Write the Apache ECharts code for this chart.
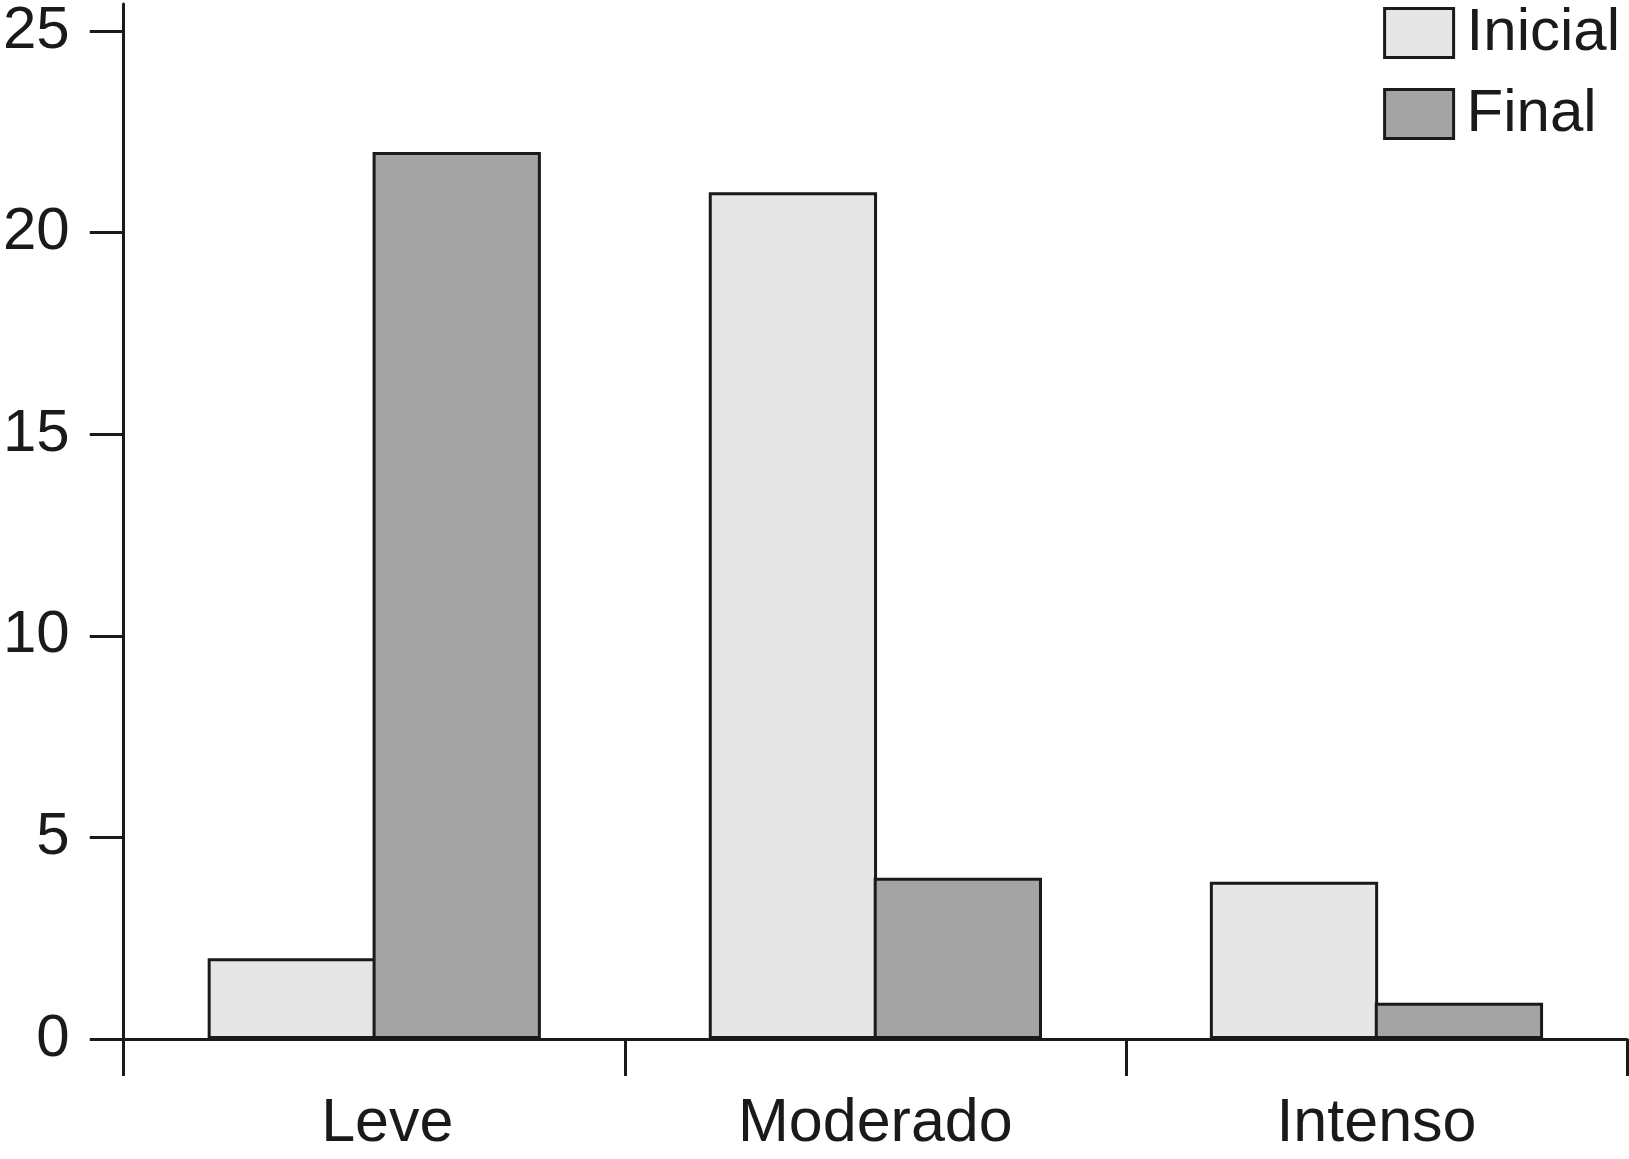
<!DOCTYPE html>
<html>
<head>
<meta charset="utf-8">
<script src="https://cdn.jsdelivr.net/npm/echarts@6/dist/echarts.min.js"></script>
<style>
html,body{margin:0;padding:0;background:#fff;}
#chart{width:1629px;height:1159px;}
</style>
</head>
<body>
<div id="chart"></div>
<script>
const categories = ['Leve', 'Moderado', 'Intenso'];
const inicialValues = [2, 21, 3.9];
const finalValues = [22, 4, 0.9];
const yTicks = [0, 5, 10, 15, 20, 25];
const seriesNames = ['Inicial', 'Final'];

const ink = '#1a1a1a';
const font = 'Liberation Sans, Arial, Helvetica, sans-serif';

const categoryItems = categories.map(function (c, i) {
  return i === 0 ? {value: c, textStyle: {padding: [0, 0, 0, 26]}} : c;
});

const chart = echarts.init(document.getElementById('chart'), null, {renderer: 'canvas'});
chart.setOption({
  backgroundColor: '#ffffff',
  animation: false,
  grid: {left: 120, right: 2, top: 4, bottom: 120, containLabel: false},
  legend: {
    orient: 'vertical',
    right: 4,
    top: -2,
    itemWidth: 69,
    itemHeight: 49,
    itemGap: 21,
    align: 'left',
    icon: 'rect',
    textStyle: {fontFamily: font, fontSize: 60, color: ink, padding: [0, 0, 0, 8]},
    itemStyle: {borderColor: ink, borderWidth: 3},
    data: seriesNames
  },
  xAxis: {
    type: 'category',
    data: categoryItems,
    boundaryGap: true,
    axisLine: {lineStyle: {color: ink, width: 3}},
    axisTick: {show: true, inside: false, length: 37, alignWithLabel: false, lineStyle: {color: ink, width: 3}},
    axisLabel: {fontFamily: font, fontSize: 61, color: ink, margin: 55}
  },
  yAxis: {
    type: 'value',
    min: 0,
    max: 25 + 27 / 40.32,
    interval: 5,
    splitLine: {show: false},
    axisLine: {show: true, lineStyle: {color: ink, width: 3}},
    axisTick: {show: true, inside: false, length: 34, lineStyle: {color: ink, width: 3}, customValues: yTicks},
    axisLabel: {fontFamily: font, fontSize: 60, color: ink, margin: 54, customValues: yTicks}
  },
  series: [
    {
      name: seriesNames[0],
      type: 'bar',
      data: inicialValues,
      barGap: '-2%',
      barCategoryGap: '33.5%',
      itemStyle: {color: '#e6e6e6', borderColor: ink, borderWidth: 3}
    },
    {
      name: seriesNames[1],
      type: 'bar',
      data: finalValues,
      barGap: '-2%',
      barCategoryGap: '33.5%',
      itemStyle: {color: '#a4a4a4', borderColor: ink, borderWidth: 3}
    }
  ]
});
</script>
</body>
</html>
